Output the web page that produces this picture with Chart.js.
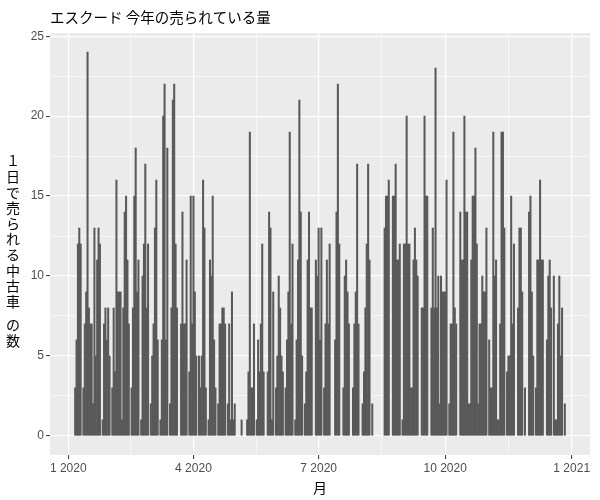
<!DOCTYPE html>
<html><head><meta charset="utf-8">
<script src="https://cdn.jsdelivr.net/npm/chart.js@4.4.0/dist/chart.umd.min.js"></script>
<style>html,body{margin:0;padding:0;background:#fff}#wrap{width:600px;height:500px}</style>
</head><body><div id="wrap"><canvas id="c" width="600" height="500"></canvas></div>
<script>
// Daily counts of used Escudo cars sold, starting 2020-01-01 (index 0)
const startDate = '2020-01-01';
const dailyCounts = [
  0,0,0,0,0,3,6,12,13,12,
  0,3,7,9,24,8,7,7,2,13,
  5,11,13,12,0,1,7,8,6,8,
  5,0,3,8,4,16,9,9,9,1,
  8,14,15,11,7,0,3,8,15,18,
  9,11,0,1,10,12,17,8,12,0,
  2,5,7,13,16,6,0,1,6,20,
  22,6,18,0,2,8,21,22,12,8,
  0,0,7,14,7,7,11,0,4,15,
  7,15,9,5,0,5,3,5,16,13,
  3,0,1,11,10,15,6,3,0,2,
  7,7,8,8,7,0,2,7,1,9,
  1,2,0,0,0,0,1,0,0,0,
  1,4,19,3,3,7,0,1,6,4,
  7,12,4,0,0,4,14,13,1,9,
  0,3,5,10,8,5,4,0,3,6,
  9,19,7,12,0,1,6,11,21,14,
  5,0,2,4,11,14,8,8,0,0,
  11,10,13,6,13,0,3,7,11,7,
  12,0,0,0,6,14,22,12,0,0,
  3,10,11,9,7,0,0,3,7,9,
  17,7,0,0,2,4,8,12,17,11,
  0,2,0,0,0,0,0,0,0,0,
  13,15,15,16,0,0,15,15,17,11,
  11,12,0,1,12,12,20,12,12,3,
  3,11,13,11,10,0,0,8,8,20,
  15,15,0,0,8,13,8,23,8,10,
  2,10,9,9,9,16,0,2,7,7,
  19,8,7,0,0,14,11,11,20,14,
  14,2,2,11,15,15,18,12,2,7,
  7,10,9,9,13,0,6,3,3,19,
  10,11,1,1,7,19,19,13,0,4,
  5,5,15,7,12,0,0,8,13,13,
  9,0,3,0,0,14,15,9,5,0,
  3,11,11,16,11,11,0,0,6,10,
  11,8,0,10,1,1,7,10,5,8,
  0,2,0,0,0,0
];
const xTickValues = [0, 91, 182, 274, 366];
const xTickLabels = ['1 2020', '4 2020', '7 2020', '10 2020', '1 2021'];
const xMinorValues = [45.5, 136.5, 228, 320];
const yTickValues = [0, 5, 10, 15, 20, 25];
const yMinorValues = [2.5, 7.5, 12.5, 17.5, 22.5];
const titleText = 'エスクード 今年の売られている量';
const yTitleText = '１日で売られる中古車 の数';
const xTitleText = '月';

// days with no sales have no bar
const points = dailyCounts.map((v, i) => ({ x: i, y: v === 0 ? null : v }));
const LATIN = '"Liberation Sans", Arial, sans-serif';
const CJK = '"Noto Sans CJK JP", sans-serif';

const isMinor = (list, v) => list.some(m => Math.abs(m - v) < 1e-6);

const decor = {
  id: 'decor',
  beforeDraw(chart) {
    const { ctx, chartArea: a } = chart;
    ctx.save();
    ctx.fillStyle = '#ffffff';
    ctx.fillRect(0, 0, chart.width, chart.height);
    ctx.fillStyle = '#EBEBEB';
    ctx.fillRect(a.left, a.top, a.right - a.left, a.bottom - a.top);
    ctx.restore();
  },
  afterDraw(chart) {
    const { ctx, chartArea: a } = chart;
    ctx.save();
    ctx.fillStyle = '#000000';
    ctx.textBaseline = 'middle';
    ctx.font = '14.5px ' + CJK;
    ctx.textAlign = 'left';
    ctx.fillText(titleText, a.left, 17);
    ctx.font = '14px ' + CJK;
    ctx.textAlign = 'center';
    ctx.fillText(xTitleText, (a.left + a.right) / 2, 488);
    let y = 161;
    for (const ch of yTitleText) {
      if (ch === ' ') { y += 8; continue; }
      ctx.fillText(ch, 13, y);
      y += 15.6;
    }
    ctx.restore();
  }
};

new Chart(document.getElementById('c'), {
  type: 'bar',
  data: {
    datasets: [{
      data: points,
      backgroundColor: '#595959',
      borderWidth: 0,
      barPercentage: 1.0,
      categoryPercentage: 1.0
    }]
  },
  options: {
    responsive: false,
    animation: false,
    devicePixelRatio: 1,
    layout: { padding: { left: 0, right: 10, top: 33, bottom: 0 } },
    plugins: { legend: { display: false }, tooltip: { enabled: false }, title: { display: false } },
    scales: {
      x: {
        type: 'linear',
        min: -13.3,
        max: 379.3,
        offset: false,
        border: { display: false },
        grid: {
          offset: false,
          color: '#ffffff',
          lineWidth: c => (c.tick && isMinor(xMinorValues, c.tick.value)) ? 0.6 : 1.2,
          tickColor: c => (c.tick && isMinor(xMinorValues, c.tick.value)) ? 'rgba(0,0,0,0)' : '#333333',
          tickWidth: 1,
          tickLength: 4
        },
        ticks: {
          autoSkip: false,
          maxRotation: 0,
          color: '#4D4D4D',
          font: { family: LATIN, size: 12 },
          padding: 2,
          callback: v => {
            const i = xTickValues.indexOf(v);
            return i >= 0 ? xTickLabels[i] : '';
          }
        },
        afterBuildTicks: s => {
          s.ticks = [...xTickValues, ...xMinorValues].sort((a, b) => a - b).map(v => ({ value: v }));
        },
        afterFit: s => { s.height = 45; }
      },
      y: {
        type: 'linear',
        min: -1.2,
        max: 25.2,
        border: { display: false },
        grid: {
          color: '#ffffff',
          lineWidth: c => (c.tick && isMinor(yMinorValues, c.tick.value)) ? 0.6 : 1.2,
          tickColor: c => (c.tick && isMinor(yMinorValues, c.tick.value)) ? 'rgba(0,0,0,0)' : '#333333',
          tickWidth: 1,
          tickLength: 4
        },
        ticks: {
          color: '#4D4D4D',
          font: { family: LATIN, size: 12 },
          padding: 2,
          callback: v => yTickValues.includes(v) ? String(v) : ''
        },
        afterBuildTicks: s => {
          s.ticks = [...yTickValues, ...yMinorValues].sort((a, b) => a - b).map(v => ({ value: v }));
        },
        afterFit: s => { s.width = 50; }
      }
    }
  },
  plugins: [decor]
});
</script>
</body></html>
